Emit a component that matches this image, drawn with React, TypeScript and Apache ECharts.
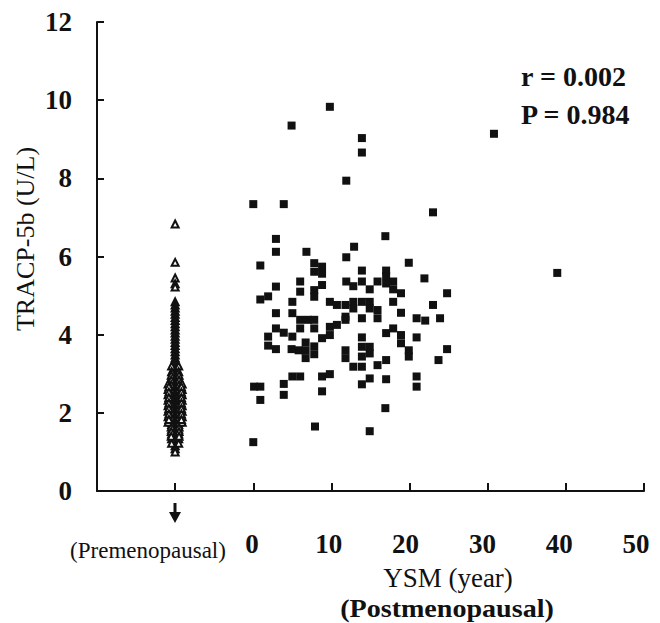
import React, { useEffect, useRef } from "react";
import * as echarts from "echarts";

// Premenopausal group: plotted at x = -10 (with small horizontal spread), [x, TRACP-5b]
const preData: number[][] = [
  [-10, 6.83], [-10, 5.85], [-10, 5.45], [-10, 5.3], [-10, 5.22], [-10, 4.84], [-10, 4.76],
  [-10, 4.68], [-10, 4.6], [-10, 4.52], [-10, 4.44], [-10, 4.36], [-10, 4.28], [-10, 4.2],
  [-10, 4.12], [-10, 4.04], [-10, 3.96], [-10, 3.88], [-10, 3.8], [-10, 3.72], [-10, 3.64],
  [-10, 3.56], [-10, 3.48], [-10, 3.4], [-10, 3.32], [-10, 3.24], [-10, 3.16], [-10, 3.08],
  [-10, 3.0], [-10, 2.92], [-10, 2.84], [-10, 2.76], [-10, 2.68], [-10, 2.6], [-10, 2.52],
  [-10, 2.44], [-10, 2.36], [-10, 2.28], [-10, 2.2], [-10, 2.12], [-10, 2.04], [-10, 1.96],
  [-10, 1.88], [-10, 1.8], [-10, 1.72], [-10, 1.64], [-10, 1.56], [-10, 1.48], [-10, 1.4],
  [-10, 1.32], [-10, 1.24], [-10, 1.16], [-10, 1.08], [-10, 1.0],
  [-10.45, 3.2], [-9.55, 3.2], [-10.45, 3.05], [-9.55, 3.05], [-10.45, 2.9], [-9.55, 2.9],
  [-10.45, 2.78], [-9.55, 2.78], [-10.45, 2.66], [-9.55, 2.66], [-10.45, 2.54], [-9.55, 2.54],
  [-10.45, 2.42], [-9.55, 2.42], [-10.45, 2.3], [-9.55, 2.3], [-10.45, 2.18], [-9.55, 2.18],
  [-10.45, 2.06], [-9.55, 2.06], [-10.45, 1.94], [-9.55, 1.94], [-10.45, 1.82], [-9.55, 1.82],
  [-10.45, 1.7], [-9.55, 1.7], [-10.45, 1.58], [-9.55, 1.58], [-10.45, 1.46], [-9.55, 1.46],
  [-10.45, 1.34], [-9.55, 1.34], [-10.45, 1.22], [-9.55, 1.22],
  [-10.5, 2.96], [-9.5, 2.96], [-10.5, 2.84], [-9.5, 2.84], [-10.5, 2.72], [-9.5, 2.72],
  [-10.5, 2.6], [-9.5, 2.6], [-10.5, 2.48], [-9.5, 2.48], [-10.5, 2.36], [-9.5, 2.36],
  [-10.5, 2.24], [-9.5, 2.24], [-10.5, 2.12], [-9.5, 2.12], [-10.5, 2.0], [-9.5, 2.0],
  [-10.5, 1.88], [-9.5, 1.88], [-10.5, 1.76], [-9.5, 1.76], [-10.5, 1.64], [-9.5, 1.64],
  [-10.5, 1.52], [-9.5, 1.52], [-10.5, 1.4], [-9.5, 1.4],
  [-10.9, 2.74], [-9.1, 2.74], [-10.9, 2.6], [-9.1, 2.6], [-10.9, 2.46], [-9.1, 2.46],
  [-10.9, 2.32], [-9.1, 2.32], [-10.9, 2.18], [-9.1, 2.18], [-10.9, 2.04], [-9.1, 2.04],
  [-10.9, 1.9], [-9.1, 1.9], [-10.9, 1.76], [-9.1, 1.76],
  [-10.8, 2.67], [-9.2, 2.67], [-10.8, 2.53], [-9.2, 2.53], [-10.8, 2.39], [-9.2, 2.39],
  [-10.8, 2.25], [-9.2, 2.25], [-10.8, 2.11], [-9.2, 2.11], [-10.8, 1.97], [-9.2, 1.97],
  [-10.8, 1.83], [-9.2, 1.83],
];

// Postmenopausal group: [YSM (year), TRACP-5b (U/L)]
const postData: number[][] = [
  [9.8, 9.83], [4.9, 9.35], [13.9, 9.03], [13.9, 8.66], [30.8, 9.14], [11.9, 7.94], [0, 7.34],
  [3.9, 7.34], [23, 7.13], [38.9, 5.58],
  [2.9, 6.45], [16.9, 6.52], [2.9, 6.12], [6.8, 6.12], [12.9, 6.25], [11.9, 5.98], [0.9, 5.77],
  [19.9, 5.84],
  [7.8, 5.83], [8.8, 5.74], [7.8, 5.61], [8.8, 5.56], [13.9, 5.64], [17, 5.64], [17, 5.5], [21.9, 5.44],
  [6, 5.36], [6, 5.1], [8.8, 5.27], [7.8, 5.14], [7.8, 4.97], [11.9, 5.36], [12.8, 5.24], [13.9, 5.36],
  [14.9, 5.16], [15.9, 5.36], [17, 5.31], [17.9, 5.36], [17.9, 5.16], [18.9, 5.06], [24.8, 5.06],
  [2.9, 5.23], [1.9, 4.98], [0.9, 4.9],
  [5, 4.84], [5, 4.55], [2.9, 4.55], [9.8, 4.84], [10.7, 4.76], [11.8, 4.76], [12.8, 4.84], [13.9, 4.84],
  [14.9, 4.84], [12.8, 4.67], [14.9, 4.67], [15.9, 4.63], [15.9, 4.42], [13.9, 4.42], [11.8, 4.46],
  [17.9, 4.84], [18.9, 4.56], [23, 4.76], [20.9, 4.42], [22, 4.36], [23.9, 4.42],
  [6, 4.38], [7, 4.38], [7.8, 4.38], [6, 4.16], [7.8, 4.16], [5, 3.95], [9.8, 4.2], [10.7, 4.25],
  [11.8, 4.38], [9.8, 3.99], [8.8, 3.91], [13.9, 3.93], [17, 4.04], [17.9, 4.16], [18.9, 3.99],
  [18.9, 3.78], [19.9, 3.6], [19.9, 3.44], [20.9, 3.93], [24.8, 3.63], [23.7, 3.35],
  [2.9, 4.16], [3.9, 4.05], [1.9, 3.95], [1.9, 3.72], [2.9, 3.63], [4.9, 3.63],
  [5.8, 3.6], [6.7, 3.8], [6.7, 3.6], [6.7, 3.4], [7.8, 3.7], [7.8, 3.5], [11.8, 3.6], [11.8, 3.4],
  [13.9, 3.69], [14.9, 3.69], [13.9, 3.44], [14.9, 3.52], [12.8, 3.18], [13.9, 3.18], [15.9, 3.22],
  [17, 3.35],
  [5, 2.93], [6, 2.93], [8.8, 2.93], [9.8, 2.99], [14.9, 2.88], [13.9, 2.73], [17, 2.86], [20.9, 2.93],
  [20.9, 2.67], [8.8, 2.55],
  [3.9, 2.74], [0.1, 2.67], [0.9, 2.67], [0.9, 2.33], [3.9, 2.46], [16.9, 2.12], [7.9, 1.65],
  [14.9, 1.53], [0, 1.25],
];

const xTickLabels: number[] = [0, 10, 20, 30, 40, 50];
const statTexts: string[] = ["r = 0.002", "P = 0.984"];
const yAxisTitle = "TRACP-5b (U/L)";
const xAxisTitle = "YSM (year)";
const postGroupLabel = "(Postmenopausal)";
const preGroupLabel = "(Premenopausal)";

const FONT = '"Liberation Serif", "Times New Roman", serif';
const INK = "#111";

export default function App() {
  const ref = useRef<HTMLDivElement>(null);

  useEffect(() => {
    document.body.style.margin = "0";
    if (!ref.current) return;
    const chart = echarts.init(ref.current, undefined, { renderer: "svg" });
    chart.setOption({
      animation: false,
      backgroundColor: "#fff",
      grid: { left: 97, right: 16, top: 22, bottom: 132, containLabel: false, outerBoundsMode: "none" },
      xAxis: [
        {
          type: "value",
          min: -20,
          max: 50,
          interval: 10,
          axisLine: { show: true, onZero: false, lineStyle: { color: INK, width: 2 } },
          axisTick: { show: true, inside: true, length: 8, lineStyle: { color: INK, width: 2 } },
          axisLabel: { show: false },
          splitLine: { show: false },
        },
        {
          type: "value",
          position: "bottom",
          min: -20.18,
          max: 51.04,
          axisLine: { show: false, onZero: false },
          axisTick: { show: false },
          splitLine: { show: false },
          axisLabel: {
            show: true,
            customValues: xTickLabels,
            margin: 39,
            fontFamily: FONT,
            fontSize: 27,
            fontWeight: "bold",
            color: INK,
          },
        },
      ],
      yAxis: {
        type: "value",
        min: 0,
        max: 12,
        interval: 2,
        axisLine: { show: true, onZero: false, lineStyle: { color: INK, width: 2 } },
        axisTick: { show: true, inside: true, length: 7, lineStyle: { color: INK, width: 2 } },
        axisLabel: { margin: 25, fontFamily: FONT, fontSize: 27, fontWeight: "bold", color: INK },
        splitLine: { show: false },
      },
      series: [
        {
          type: "scatter",
          name: "Premenopausal",
          xAxisIndex: 0,
          data: preData,
          symbol: "triangle",
          symbolSize: 7,
          itemStyle: { color: "#fff", borderColor: INK, borderWidth: 2, opacity: 1 },
        },
        {
          type: "scatter",
          name: "Postmenopausal",
          xAxisIndex: 0,
          data: postData,
          symbol: "rect",
          symbolSize: 8,
          itemStyle: { color: INK, opacity: 1 },
        },
      ],
      graphic: [
        {
          type: "text",
          x: 25,
          y: 239,
          rotation: Math.PI / 2,
          style: { text: yAxisTitle, font: `normal 26px ${FONT}`, fill: INK, align: "center", verticalAlign: "middle" },
        },
        {
          type: "text",
          x: 448,
          y: 578,
          style: { text: xAxisTitle, font: `normal 27px ${FONT}`, fill: INK, align: "center", verticalAlign: "middle" },
        },
        {
          type: "text",
          x: 447,
          y: 608,
          scaleX: 1.08,
          style: { text: postGroupLabel, font: `bold 26px ${FONT}`, fill: INK, align: "center", verticalAlign: "middle" },
        },
        {
          type: "text",
          x: 148,
          y: 550,
          style: { text: preGroupLabel, font: `normal 23px ${FONT}`, fill: INK, align: "center", verticalAlign: "middle" },
        },
        {
          type: "text",
          x: 521,
          y: 76,
          style: { text: statTexts[0], font: `bold 28px ${FONT}`, fill: INK, align: "left", verticalAlign: "middle" },
        },
        {
          type: "text",
          x: 521,
          y: 114,
          style: { text: statTexts[1], font: `bold 28px ${FONT}`, fill: INK, align: "left", verticalAlign: "middle" },
        },
        {
          type: "line",
          shape: { x1: 175, y1: 503, x2: 175, y2: 514 },
          style: { stroke: INK, lineWidth: 3 },
        },
        {
          type: "polygon",
          shape: { points: [[169, 512], [181, 512], [175, 523]] },
          style: { fill: INK },
        },
      ],
    });
    return () => chart.dispose();
  }, []);

  return <div ref={ref} style={{ width: 660, height: 623 }} />;
}
